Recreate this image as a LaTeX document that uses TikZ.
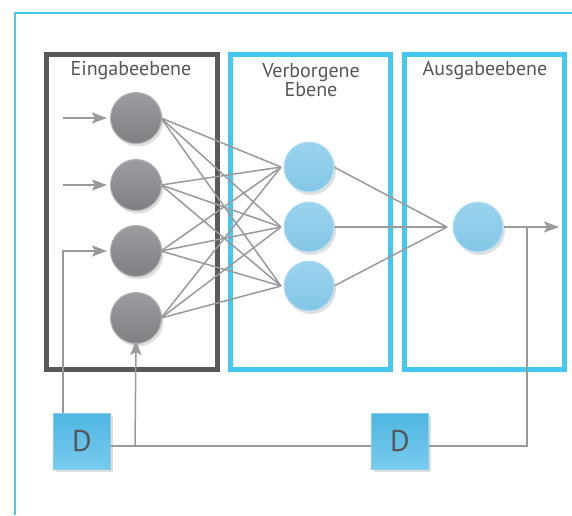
\documentclass[tikz,border=0pt]{standalone}
\usepackage{fontspec}
\setmainfont{PT Sans}
\usetikzlibrary{arrows.meta,shadows,calc}
\definecolor{framecol}{HTML}{45C8F0}
\definecolor{darkbox}{HTML}{58595B}
\definecolor{linecol}{HTML}{999A9C}
\definecolor{txtcol}{HTML}{55565A}
\definecolor{graytop}{HTML}{9C9DA0}
\definecolor{graybot}{HTML}{7E7F82}
\definecolor{bluetop}{HTML}{9AD3EE}
\definecolor{bluebot}{HTML}{84C6E6}
\definecolor{dtop}{HTML}{4FB6E2}
\definecolor{dbot}{HTML}{78CBEE}
\begin{document}
\begin{tikzpicture}[x=1pt,y=-1pt,
  layerlabel/.style={text=txtcol,font=\fontsize{20}{19}\selectfont,align=center},
  grayneuron/.style={circle,minimum size=51pt,inner sep=0pt,top color=graytop,bottom color=graybot,draw=graytop!80!white,line width=1pt,drop shadow={opacity=0.25,shadow xshift=2pt,shadow yshift=-3pt}},
  blueneuron/.style={circle,minimum size=50pt,inner sep=0pt,top color=bluetop,bottom color=bluebot,draw=bluetop!70!white,line width=1pt,drop shadow={opacity=0.25,shadow xshift=2pt,shadow yshift=-3pt}},
  delaybox/.style={minimum width=57pt,minimum height=56pt,inner sep=0pt,top color=dtop,bottom color=dbot,draw=dtop!70!white,line width=0.8pt,text=txtcol,font=\fontsize{30}{30}\selectfont,drop shadow={opacity=0.25,shadow xshift=2pt,shadow yshift=-3pt}},
  conn/.style={draw=linecol,line width=1.5pt},
  arr/.style={conn,-{Stealth[length=15pt,width=11pt,inset=3pt]}},
  layerbox/.style={line width=5pt}
]
\useasboundingbox (0,0) rectangle (572,515);
% outer frame
\draw[framecol,line width=2pt] (14.5,515) -- (14.5,12.5) -- (572,12.5);
% layer boxes
\draw[layerbox,darkbox] (46,54.5) rectangle (217.5,369.5);
\draw[layerbox,framecol] (230.5,54.5) rectangle (390.5,369.5);
\draw[layerbox,framecol] (404.5,54.5) rectangle (564.5,369.5);
\node[layerlabel] (l1) at (131,71) {Eingabeebene};
\node[layerlabel] (l2) at (311,80) {Verborgene\\Ebene};
\node[layerlabel] (l3) at (485,71) {Ausgabeebene};
% connections (drawn first)
\coordinate (h1c) at (309,167);
\coordinate (h2c) at (309,227);
\coordinate (h3c) at (309,286);
\foreach \i/\y in {1/118,2/185,3/251,4/318}{
  \coordinate (in\i) at (136,\y);
}
\foreach \i in {1,2,3,4}{
  \foreach \h in {1,2,3}{
    \draw[conn] ($(in\i)+(25,0)$) -- ($(h\h c)+(-28,0)$);
  }
}
\coordinate (oc) at (478,227);
\foreach \h in {1,2,3}{
  \draw[conn] ($(h\h c)+(25,0)$) -- ($(oc)+(-31,0)$);
}
% neurons
\foreach \i in {1,2,3,4}{
  \node[grayneuron] (i\i) at (in\i) {};
}
\foreach \h in {1,2,3}{
  \node[blueneuron] (h\h) at (h\h c) {};
}
\node[blueneuron] (o) at (oc) {};
% delay boxes
\node[delaybox] (d1) at (82,441) {D};
\node[delaybox] (d2) at (400,441) {D};
% inputs
\coordinate (s1) at (63,118);
\coordinate (s2) at (63,185);
\draw[arr] (s1) -- ([xshift=-3pt]i1.west);
\draw[arr] (s2) -- ([xshift=-3pt]i2.west);
\draw[arr] (d1.north -| 63,0) -- (63,251) -- ([xshift=-3pt]i3.west);
% output
\coordinate (out) at (559,227);
\coordinate (tap) at (527,227);
\draw[arr] (o.east) -- (out);
\draw[conn] (tap) -- (527,446) -- (d2.east |- 0,446);
\coordinate (branch) at (135,446);
\draw[conn] (d2.west |- 0,446) -- (d1.east |- 0,446);
\draw[arr] (branch) -- ([yshift=4pt]i4.south);
\end{tikzpicture}
\end{document}
